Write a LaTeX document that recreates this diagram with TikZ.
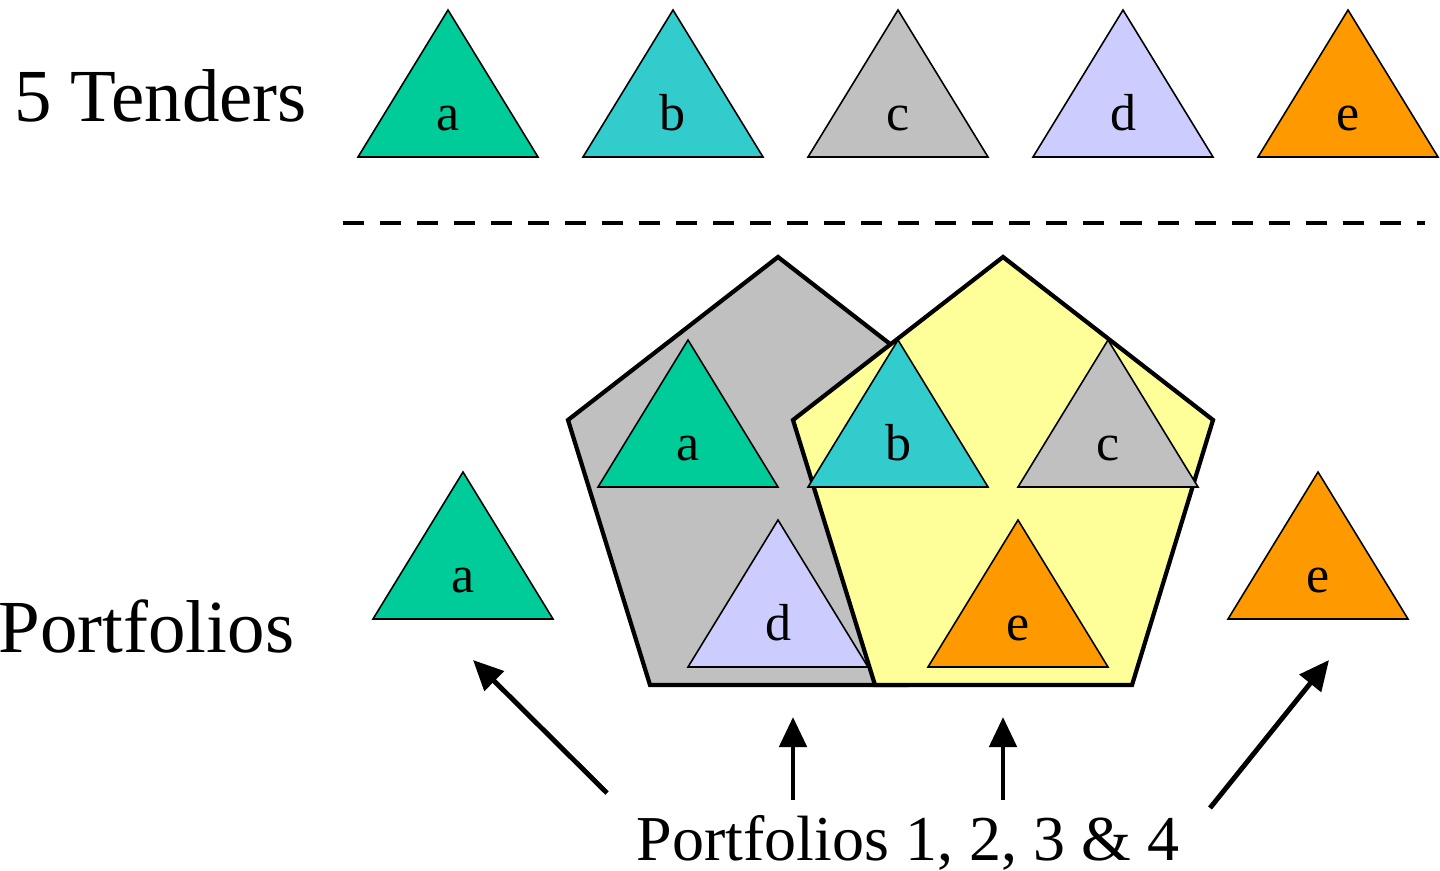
\documentclass[tikz,border=0pt]{standalone}
\usepackage{fontspec}
\setmainfont{Liberation Serif}
\usetikzlibrary{arrows.meta}

\definecolor{tgreen}{HTML}{00CC99}
\definecolor{tcyan}{HTML}{33CCCC}
\definecolor{tgray}{HTML}{C0C0C0}
\definecolor{tlilac}{HTML}{CCCCFF}
\definecolor{torange}{HTML}{FF9900}
\definecolor{pyellow}{HTML}{FFFF99}

\tikzset{
  trishape/.style={draw=black, line width=0.45pt, line join=miter},
  pentshape/.style={draw=black, line width=1.2pt, line join=miter},
  trilabel/.style={anchor=base, inner sep=0pt, font=\fontsize{14.8}{17}\selectfont},
  bigtext/.style={inner sep=0pt, font=\fontsize{21.3}{25}\selectfont},
  midtext/.style={inner sep=0pt, font=\fontsize{18.2}{21}\selectfont},
  pointer/.style={line width=1.4pt, -{Triangle[length=0.30cm,width=0.27cm]}},
}

% tender triangle: name, apex x, apex y, fill colour, letter
\newcommand{\tendertri}[5]{%
  \path[trishape, fill=#4] (#2,#3) -- ++(90,147) -- ++(-180,0) -- cycle;
  \node[trilabel] (#1) at (#2,#3+120) {#5};
}

\begin{document}
\begin{tikzpicture}[x=0.01cm, y=-0.01cm]
\useasboundingbox (0,0) rectangle (1440,870);

% headings
\node[bigtext, anchor=base west] (tenders) at (14,122) {5 Tenders};
\node[bigtext, anchor=base west] (portfolios) at (-2,652) {Portfolios};

% the five tenders
\tendertri{ta}{448}{10}{tgreen}{a}
\tendertri{tb}{673}{10}{tcyan}{b}
\tendertri{tc}{898}{10}{tgray}{c}
\tendertri{td}{1123}{10}{tlilac}{d}
\tendertri{te}{1348}{10}{torange}{e}

% separator
\draw[line width=1.35pt, dash pattern=on 0.21cm off 0.16cm] (343,223) -- (1425,223);

% portfolio pentagons
\path[pentshape, fill=tgray] (778,257) -- (988,420) -- (907,685) -- (650,685) -- (568,420) -- cycle;
\tendertri{pa}{688}{340}{tgreen}{a}
\tendertri{pd}{778}{520}{tlilac}{d}
\path[pentshape, fill=pyellow] (1003,257) -- (1213,420) -- (1132,685) -- (875,685) -- (793,420) -- cycle;
\tendertri{pb}{898}{340}{tcyan}{b}
\tendertri{pc}{1108}{340}{tgray}{c}
\tendertri{pe}{1018}{520}{torange}{e}

% single-tender portfolios
\tendertri{sa}{463}{472}{tgreen}{a}
\tendertri{se}{1318}{472}{torange}{e}

% caption and pointers
\node[midtext, anchor=base west] (caption) at (636,860) {Portfolios 1, 2, 3 \& 4};
\coordinate (s1) at (607,793);
\coordinate (e1) at (473,660);
\coordinate (s2) at (793,800);
\coordinate (e2) at (793,717);
\coordinate (s3) at (1003,800);
\coordinate (e3) at (1003,717);
\coordinate (s4) at (1210,808);
\coordinate (e4) at (1329,660);
\draw[pointer] (s1) -- (e1);
\draw[pointer] (s2) -- (e2);
\draw[pointer] (s3) -- (e3);
\draw[pointer] (s4) -- (e4);
\end{tikzpicture}
\end{document}
